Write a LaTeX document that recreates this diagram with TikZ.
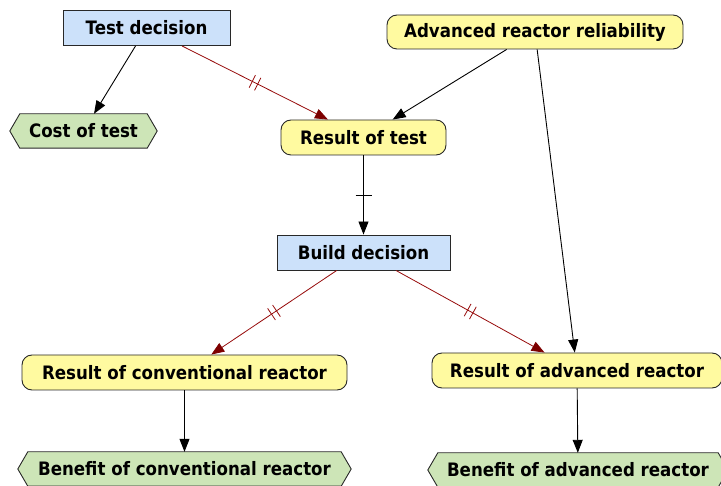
\documentclass[tikz,border=0pt]{standalone}
\usepackage{fontspec}
\setmainfont{DejaVu Sans}[FakeStretch=0.9]
\usetikzlibrary{arrows.meta,decorations.markings,backgrounds}

\definecolor{decblue}{RGB}{204,225,250}
\definecolor{chanyellow}{RGB}{255,250,160}
\definecolor{valgreen}{RGB}{205,229,183}
\definecolor{edgegray}{RGB}{40,40,40}
\definecolor{infored}{RGB}{150,10,10}
\definecolor{tipred}{RGB}{125,0,0}

\tikzset{
  lbl/.style={font=\fontsize{18.5}{20}\selectfont\bfseries, text=black, inner sep=0pt},
  decision/.style={lbl, rectangle, draw=edgegray, line width=0.9pt, fill=decblue,
    minimum height=35pt},
  chance/.style={lbl, rectangle, rounded corners=10pt, draw=edgegray, line width=0.9pt,
    fill=chanyellow, minimum height=35pt},
  valuebox/.style={lbl, rectangle, minimum height=34pt},
  hexline/.style={draw=edgegray, line width=0.9pt, fill=valgreen},
  arr/.style={draw=black, line width=0.9pt, -{Triangle[length=13pt,width=10pt]}},
  infoarr/.style={draw=infored, line width=0.8pt,
    -{Triangle[length=13pt,width=10pt,color=tipred]}},
  onetick/.style={postaction={decorate}, decoration={markings,
    mark=at position 0.5 with {\draw[-, black, line width=0.8pt] (0pt,-8pt) -- (0pt,8pt);}}},
  twoticks/.style={postaction={decorate}, decoration={markings,
    mark=at position 0.5 with {\draw[-, infored, line width=0.8pt]
      (-3pt,-7pt) -- (-3pt,7pt) (3pt,-7pt) -- (3pt,7pt);}}},
}

\newcommand{\hexoutline}[1]{%
  \path[hexline] (#1.west) -- ([xshift=10pt]#1.north west) -- ([xshift=-10pt]#1.north east)
    -- (#1.east) -- ([xshift=-10pt]#1.south east) -- ([xshift=10pt]#1.south west) -- cycle;}

\begin{document}
\begin{tikzpicture}[x=1pt, y=-1pt]
  \useasboundingbox (0,0) rectangle (721,486);
  \clip (0,0) rectangle (721,486);

  % decision nodes
  \node[decision, minimum width=167pt] (testdec) at (146.5,28) {Test decision};
  \node[decision, minimum width=173pt] (builddec) at (363.5,252.5) {Build decision};

  % chance nodes
  \node[chance, minimum width=296pt, minimum height=34pt] (advrel) at (535,32) {Advanced reactor reliability};
  \node[chance, minimum width=165pt] (restest) at (363.5,137.5) {Result of test};
  \node[chance, minimum width=325pt] (resconv) at (184.5,372.5) {Result of conventional reactor};
  \node[chance, minimum width=290pt] (resadv) at (577,370.5) {Result of advanced reactor};

  % value nodes (hexagons)
  \node[valuebox, minimum width=147pt] (cost) at (83.5,131) {Cost of test};
  \node[valuebox, minimum width=333pt] (benconv) at (184.5,469) {Benefit of conventional reactor};
  \node[valuebox, minimum width=300pt] (benadv) at (578,470) {Benefit of advanced reactor};
  \begin{scope}[on background layer]
    \hexoutline{cost}
    \hexoutline{benconv}
    \hexoutline{benadv}
  \end{scope}

  % influences
  \draw[arr] (testdec) -- (cost);
  \draw[infoarr, twoticks] (testdec) -- (restest);
  \draw[arr] (advrel) -- (restest);
  \draw[arr] (advrel) -- (resadv);
  \draw[arr, onetick] (restest) -- (builddec);
  \draw[infoarr, twoticks] (builddec) -- (resconv);
  \draw[infoarr, twoticks] (builddec) -- (resadv);
  \draw[arr] (resconv) -- (benconv);
  \draw[arr] (resadv) -- (benadv);
\end{tikzpicture}
\end{document}
